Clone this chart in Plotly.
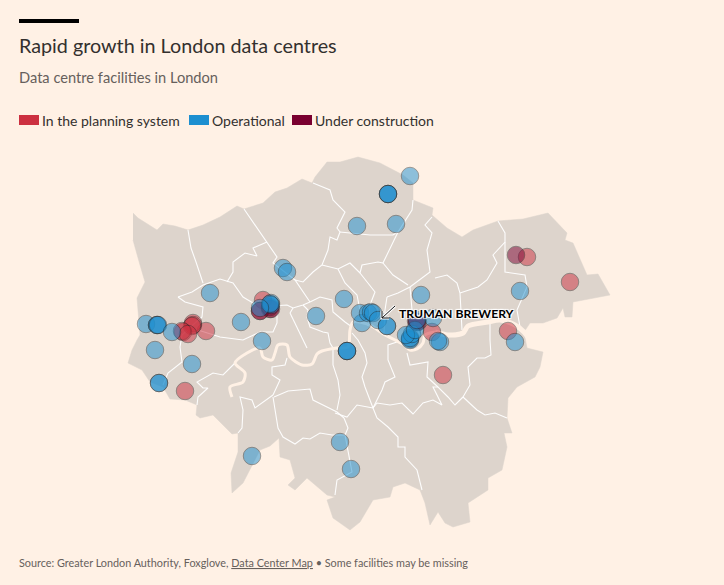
import plotly.graph_objects as go

bg = '#FFF1E5'
land_color = '#DDD4CC'
font_name = 'Lato'

title = 'Rapid growth in London data centres'
subtitle = 'Data centre facilities in London'
source = 'Source: Greater London Authority, Foxglove, <u>Data Center Map</u> • Some facilities may be missing'
callout = 'TRUMAN BREWERY'

legend_labels = ['In the planning system', 'Operational', 'Under construction']
legend_colors = ['#CC3040', '#1D8FD0', '#7A0030']

# facilities (repeats = stacked sites)
planning_x = [527, 570, 508, 443, 185, 206, 193, 193, 192, 183, 182, 188, 263, 432, 260, 270]
planning_y = [257, 282, 331, 375, 391, 331, 323, 325, 326, 332, 331, 334, 300, 332, 311, 309]

construction_x = [516, 271, 260, 418, 417, 416, 270]
construction_y = [255, 309, 311, 322, 322, 321, 307]

operational_x = [410, 388, 388, 388, 396, 357, 283, 287, 210, 146, 157, 157, 158, 172, 155, 241,
                 262, 316, 344, 421, 520, 192, 159, 159, 347, 347, 347, 340, 351, 252, 515, 440,
                 438, 362, 360, 368, 371, 373, 378, 387, 387, 271, 271, 270, 260, 410, 410, 410,
                 412, 406, 415, 433, 417]
operational_y = [176, 194, 194, 194, 224, 226, 268, 272, 293, 324, 325, 325, 325, 332, 350, 322,
                 341, 316, 299, 295, 291, 364, 383, 383, 351, 351, 351, 442, 469, 456, 342, 342,
                 341, 323, 313, 313, 312, 313, 320, 326, 326, 303, 305, 304, 308, 339, 340, 338,
                 334, 335, 330, 318, 320]

# outer boundary of Greater London
outline = [(133, 213), (138, 218), (157, 230), (163, 224), (175, 226), (188, 230), (203, 225),
           (220, 217), (237, 206), (244, 209), (263, 203), (275, 192), (287, 188), (302, 179),
           (312, 183), (315, 177), (327, 162), (340, 162), (358, 157), (380, 163), (403, 175),
           (413, 183), (413, 200), (433, 208), (432, 215), (447, 228), (462, 237), (473, 230),
           (498, 221), (523, 219), (548, 213), (567, 233), (565, 240), (573, 243), (587, 275),
           (598, 274), (610, 295), (573, 302), (572, 317), (565, 317), (563, 308), (557, 318),
           (543, 323), (530, 323), (524, 332), (527, 348), (543, 352), (540, 367), (535, 377),
           (517, 387), (508, 398), (507, 418), (512, 433), (504, 433), (507, 447), (502, 470),
           (488, 478), (488, 490), (468, 503), (470, 522), (453, 527), (445, 523), (438, 512),
           (430, 525), (425, 503), (420, 490), (405, 483), (393, 487), (390, 497), (373, 500),
           (360, 522), (350, 530), (333, 518), (327, 500), (335, 497), (327, 495), (307, 478),
           (295, 490), (288, 485), (295, 478), (290, 460), (280, 457), (279, 438), (270, 446),
           (260, 450), (252, 465), (243, 483), (232, 493), (231, 473), (238, 452), (238, 433),
           (232, 434), (213, 415), (200, 418), (196, 415), (197, 405), (185, 400), (170, 399),
           (163, 387), (150, 382), (142, 370), (128, 363), (132, 350), (137, 340), (140, 335),
           (137, 298), (145, 282), (140, 265), (133, 240)]

# borough lines
boroughs = [
    [(188, 230), (191, 248), (196, 262), (203, 283)],
    [(178, 297), (192, 292), (203, 285), (220, 279), (233, 283), (243, 297), (253, 303), (272, 306), (287, 305), (293, 308), (303, 305), (310, 302)],
    [(178, 297), (185, 302), (203, 307), (202, 317), (195, 323), (182, 335), (180, 347), (182, 362), (168, 373), (163, 385)],
    [(198, 330), (220, 337), (243, 340), (260, 332), (273, 332), (277, 323), (277, 306)],
    [(244, 209), (277, 257), (273, 263), (295, 280), (310, 302)],
    [(267, 242), (253, 248), (257, 256), (245, 253), (233, 262), (233, 272), (227, 282)],
    [(295, 280), (303, 282), (313, 272), (322, 265), (328, 250), (330, 237), (337, 240), (340, 232), (337, 228), (345, 212), (333, 200), (330, 190), (313, 183)],
    [(340, 232), (370, 235), (393, 235), (398, 232), (412, 210), (413, 200)],
    [(322, 265), (338, 269), (350, 263), (360, 273), (362, 265), (378, 262), (383, 263)],
    [(398, 232), (383, 263), (393, 275), (408, 285)],
    [(432, 217), (425, 225), (432, 233), (427, 250), (430, 272), (410, 287), (398, 293), (387, 297)],
    [(498, 221), (505, 233), (505, 242), (493, 255), (497, 263), (487, 280), (478, 287), (460, 293)],
    [(435, 278), (447, 275), (457, 283), (460, 293), (462, 330)],
    [(505, 242), (505, 272), (525, 275), (527, 287), (517, 310), (520, 327)],
    [(490, 323), (490, 340), (491, 355), (485, 358), (477, 358), (468, 367), (470, 385), (463, 397)],
    [(463, 397), (477, 410), (485, 415), (495, 413), (507, 418)],
    [(463, 397), (455, 405), (448, 397), (438, 387), (433, 387), (442, 405), (433, 400), (423, 403), (413, 414), (407, 408), (402, 403), (390, 405), (377, 403), (373, 408)],
    [(438, 387), (427, 377), (428, 362), (410, 365), (407, 353)],
    [(373, 408), (382, 390), (385, 382), (395, 377), (388, 360), (388, 345), (397, 342)],
    [(373, 408), (365, 387), (362, 377), (367, 363), (365, 353), (358, 340), (352, 333)],
    [(333, 350), (333, 365), (338, 380), (340, 395), (337, 410)],
    [(335, 413), (347, 417), (357, 405), (370, 407), (373, 408)],
    [(373, 408), (377, 418), (388, 427), (398, 437), (398, 447), (405, 447), (405, 457), (417, 470), (422, 490)],
    [(344, 418), (348, 428), (345, 435), (350, 460), (352, 472), (337, 480), (335, 495)],
    [(345, 435), (332, 435), (320, 433), (310, 439), (303, 438), (295, 444), (283, 437), (278, 428), (273, 397)],
    [(274, 397), (288, 391), (310, 389), (313, 400), (327, 407), (337, 412), (344, 418)],
    [(273, 395), (280, 380), (272, 375), (272, 367), (285, 365), (287, 358)],
    [(273, 395), (255, 408), (252, 400), (240, 397), (243, 410), (242, 428), (238, 433)],
    [(235, 363), (223, 375), (213, 373), (200, 380), (197, 382), (203, 388), (208, 388), (198, 397), (197, 405)],
    [(290, 313), (298, 330), (307, 348)],
    [(293, 308), (290, 313)],
    [(307, 317), (310, 327), (323, 332), (328, 333), (330, 343), (333, 348)],
    [(303, 305), (308, 310), (307, 317)],
    [(310, 302), (320, 297), (332, 300), (333, 312), (345, 322), (352, 327)],
    [(338, 269), (345, 283), (357, 295), (360, 310)],
    [(360, 273), (375, 292), (370, 305), (368, 326)],
    [(387, 297), (385, 310), (384, 333)],
    [(410, 287), (412, 310), (415, 325), (420, 335)],
]

# Thames, drawn wider than the borough lines
thames = [(232, 397), (230, 387), (243, 382), (245, 373), (235, 363), (247, 353), (260, 348), (263, 357),
          (272, 360), (275, 353), (278, 345), (287, 345), (290, 357), (302, 365), (312, 364), (317, 354),
          (322, 351), (337, 348), (348, 347), (350, 330), (353, 322), (370, 325), (385, 335), (395, 340),
          (404, 345), (410, 350), (417, 349), (423, 343), (425, 335), (435, 332)]
thames_east = [(435, 332), (448, 335), (463, 333), (468, 326), (488, 322), (500, 320), (515, 325), (524, 332), (530, 340)]

# callout pointer
pointer = [(395, 306), (382, 318)]
pointer_head = [(382, 311), (382, 318), (389, 318)]


def xs(points):
    return [p[0] for p in points]


def ys(points):
    return [p[1] for p in points]


fig = go.Figure()

fig.add_trace(go.Scatter(x=xs(outline), y=ys(outline), mode='lines', fill='toself',
                         fillcolor=land_color, line=dict(color=land_color, width=0.5), hoverinfo='skip'))

for line in boroughs:
    fig.add_trace(go.Scatter(x=xs(line), y=ys(line), mode='lines',
                             line=dict(color='rgba(255,255,255,0.95)', width=1.1), hoverinfo='skip'))

fig.add_trace(go.Scatter(x=xs(thames), y=ys(thames), mode='lines',
                         line=dict(color=bg, width=3, shape='spline', smoothing=0.8), hoverinfo='skip'))
fig.add_trace(go.Scatter(x=xs(thames_east), y=ys(thames_east), mode='lines',
                         line=dict(color=bg, width=5, shape='spline', smoothing=0.8), hoverinfo='skip'))

series = [(planning_x, planning_y, legend_colors[0]),
          (construction_x, construction_y, legend_colors[2]),
          (operational_x, operational_y, legend_colors[1])]
for sx, sy, c in series:
    fig.add_trace(go.Scatter(x=sx, y=sy, mode='markers',
                             marker=dict(size=17.5, color=c, opacity=0.5,
                                         line=dict(color='rgba(30,30,30,0.8)', width=1)),
                             hoverinfo='skip'))

# pointer with white halo
for c, w in [('white', 3), ('#111111', 1)]:
    fig.add_trace(go.Scatter(x=xs(pointer), y=ys(pointer), mode='lines', line=dict(color=c, width=w), hoverinfo='skip'))
    fig.add_trace(go.Scatter(x=xs(pointer_head), y=ys(pointer_head), mode='lines', line=dict(color=c, width=w), hoverinfo='skip'))

shapes = [dict(type='rect', xref='x', yref='y', x0=19, x1=79, y0=19, y1=23,
               fillcolor='black', line_width=0)]
annotations = []

# Title
annotations.append(dict(x=17, y=45, xanchor='left', yanchor='middle', text=title, showarrow=False,
                        font=dict(family=font_name, size=19.75, color='#33302E')))
annotations.append(dict(x=17, y=77.5, xanchor='left', yanchor='middle', text=subtitle, showarrow=False,
                        font=dict(family=font_name, size=14.65, color='#66605C')))

# Legend
legend_x = [19, 189, 292]
for i, label in enumerate(legend_labels):
    shapes.append(dict(type='rect', xref='x', yref='y', x0=legend_x[i], x1=legend_x[i] + 20, y0=115, y1=125,
                       fillcolor=legend_colors[i], line_width=0))
    annotations.append(dict(x=legend_x[i] + 21, y=120.5, xanchor='left', yanchor='middle', text=label, showarrow=False,
                            font=dict(family=font_name, size=14, color='#33302E')))

# Callout
halo = '-1px -1px 1px #fff, 1px -1px 1px #fff, -1px 1px 1px #fff, 1px 1px 1px #fff'
annotations.append(dict(x=396.5, y=313, xanchor='left', yanchor='middle', text='<b>' + callout + '</b>', showarrow=False,
                        font=dict(family=font_name, size=12.2, color='black', shadow=halo)))

# Source
annotations.append(dict(x=17, y=562, xanchor='left', yanchor='middle', text=source, showarrow=False,
                        font=dict(family=font_name, size=10.83, color='#66605C')))

fig.update_layout(
    width=724,
    height=585,
    autosize=False,
    margin=dict(l=0, r=0, t=0, b=0),
    paper_bgcolor=bg,
    plot_bgcolor=bg,
    showlegend=False,
    xaxis=dict(range=[0, 724], visible=False, fixedrange=True),
    yaxis=dict(range=[585, 0], visible=False, fixedrange=True),
    shapes=shapes,
    annotations=annotations,
)

fig.write_html("out.html", post_script="document.body.style.margin='0';", config=dict(displayModeBar=False))
